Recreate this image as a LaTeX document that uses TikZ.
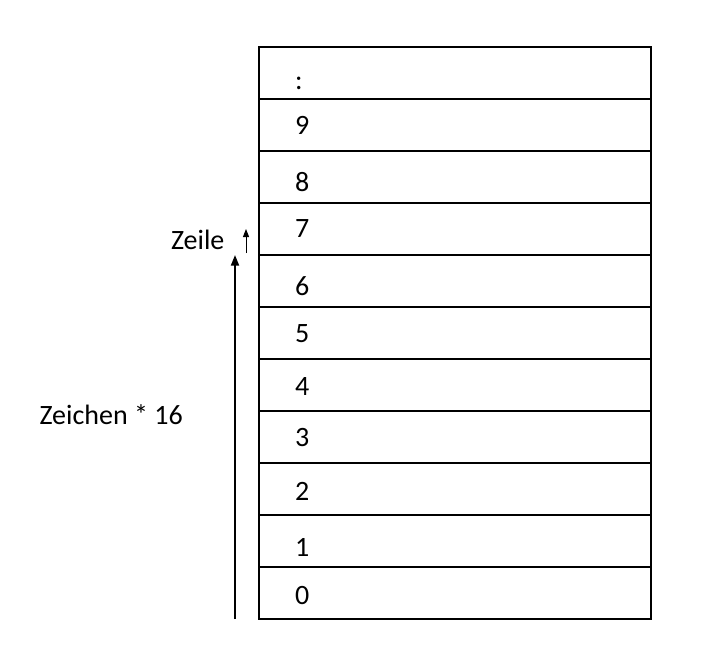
\documentclass[tikz,border=0pt]{standalone}
\usepackage{fontspec}
\setmainfont{Carlito}
\usetikzlibrary{positioning,calc,arrows.meta}

\begin{document}
\begin{tikzpicture}[x=1pt,y=1pt, every node/.style={font=\fontsize{21}{25}\selectfont},
  zelle/.style={draw,line width=1.5pt,minimum width=294pt,minimum height=39pt,text width=240pt,align=left,inner xsep=27pt,outer sep=0pt,anchor=north}]
        \useasboundingbox (0,0) rectangle (540,496.5);
        % Speicher: eine Zeile pro Kasten
        \node[zelle,anchor=north west] (rtop) at (194.25,461.25) {\raisebox{-8pt}[\height][\depth]{:}};
        \foreach \z/\dy [remember=\z as \vor (initially top)] in {9/0,8/-3.75,7/0,6/-3.75,5/-0.75,4/-1.5,3/-0.75,2/-1.5,1/-4.5,0/-2.25}
          \node[zelle,below=0pt of r\vor] (r\z) {\raisebox{\dy pt}[\height][\depth]{\z}};
        % Pfeile links
        \coordinate (a0) at ($(r0.south west)+(-18,0)$);
        \coordinate (a1) at ($(r6.north west)+(-18,0)$);
        \coordinate (z0) at ($(r6.north west)+(-9.75,1.5)$);
        \coordinate (z1) at ($(r7.west)+(-9.75,0)$);
        \draw[line width=1.5pt,-{Triangle[width=6pt,length=8pt]}] (a0) -- (a1);
        \draw[line width=.75pt,-{Triangle[width=4.5pt,length=6pt]}] (z0) -- (z1);
        \node[anchor=east,inner sep=0pt] (zeile) at ($(z0)+(-16,10)$) {Zeile};
        \node[anchor=east,inner sep=0pt] (zeichen) at ($(r3.north west)+(-57,-3)$) {Zeichen * 16};
      \end{tikzpicture}
\end{document}
